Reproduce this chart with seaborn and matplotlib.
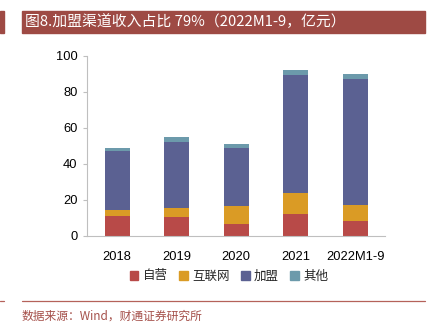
import matplotlib
matplotlib.use("Agg")
import matplotlib.pyplot as plt
import matplotlib.patches as mpatches
import seaborn as sns
import numpy as np

categories = ["2018", "2019", "2020", "2021", "2022M1-9"]
series_names = ["自营", "互联网", "加盟", "其他"]
ziying = [11.0, 10.7, 6.9, 12.2, 8.1]
hulianwang = [3.5, 5.0, 9.8, 11.5, 9.1]
jiameng = [32.5, 36.3, 32.0, 65.6, 70.3]
qita = [2.0, 2.8, 2.4, 2.7, 2.4]
yticks = [0, 20, 40, 60, 80, 100]
title = "图8.加盟渠道收入占比 79%（2022M1-9，亿元）"
source = "数据来源：Wind，财通证券研究所"

colors = ["#B84A48", "#DA9B25", "#5B6192", "#6C9AAB"]

sns.set_theme(style="white")
plt.rcParams["font.family"] = ["Liberation Sans", "Noto Sans CJK SC", "DejaVu Sans"]

fig = plt.figure(figsize=(4.33, 3.36), dpi=100)
ax = fig.add_axes([87.3 / 433, 1 - 236 / 336, (385 - 87.3) / 433, (236 - 56) / 336])

bottom = np.zeros(len(categories))
for name, vals, c in zip(series_names, [ziying, hulianwang, jiameng, qita], colors):
    sns.barplot(x=categories, y=vals, bottom=bottom, color=c, width=0.42,
                ax=ax, saturation=1, linewidth=0)
    bottom = bottom + np.array(vals)

ax.set_ylim(0, 100)
ax.set_xlim(-0.5, 4.5)
ax.set_yticks(yticks)
ax.set_yticklabels([str(v) for v in yticks])
for s in ["top", "right"]:
    ax.spines[s].set_visible(False)
for s in ["left", "bottom"]:
    ax.spines[s].set_color("#BFBFBF")
    ax.spines[s].set_linewidth(0.8)
ax.tick_params(axis="y", left=True, length=3, width=0.8, color="#BFBFBF",
               labelsize=9.3, labelcolor="#000000", pad=4)
ax.tick_params(axis="x", bottom=False, labelsize=9.3, labelcolor="#000000", pad=5)
ax.set_xlabel("")
ax.set_ylabel("")

handles = [mpatches.Patch(color=c, label=n) for n, c in zip(series_names, colors)]
leg = fig.legend(handles=handles, loc="center", bbox_to_anchor=(229 / 433, 1 - 276 / 336),
                 ncol=4, frameon=False, handlelength=0.7, handleheight=0.7,
                 handletextpad=0.35, columnspacing=0.9,
                 prop={"family": ["Noto Sans CJK SC"], "size": 9})

# title bar
fig.patches.append(mpatches.Rectangle((0, 1 - 33 / 336), 4 / 433, 22 / 336,
                                      transform=fig.transFigure, color="#9E4A44", zorder=0))
fig.patches.append(mpatches.Rectangle((22 / 433, 1 - 33 / 336), (425 - 22) / 433, 22 / 336,
                                      transform=fig.transFigure, color="#9E4A44", zorder=0))
fig.text(25 / 433, 1 - 22 / 336, title, color="white", va="center", ha="left",
         fontsize=10.7, family=["Noto Sans CJK SC", "DejaVu Sans"])

# bottom line and source
fig.add_artist(plt.Line2D([0, 4 / 433], [1 - 301 / 336] * 2, color="#B5625A", lw=0.9,
                          transform=fig.transFigure))
fig.add_artist(plt.Line2D([22 / 433, 425 / 433], [1 - 301 / 336] * 2, color="#B5625A", lw=0.9,
                          transform=fig.transFigure))
fig.text(22 / 433, 1 - 316 / 336, source, color="#A5504A", va="center", ha="left",
         fontsize=8.5, family=["Noto Sans CJK SC", "DejaVu Sans"])

fig.savefig("out.png", dpi=100)
